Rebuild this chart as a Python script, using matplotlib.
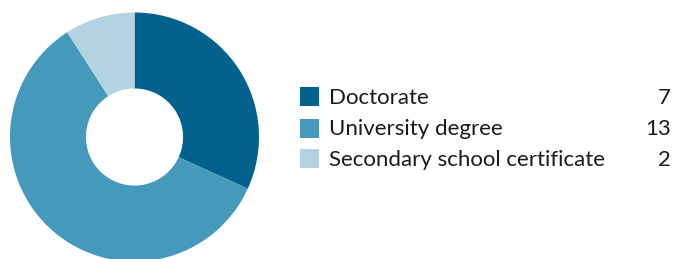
import matplotlib
matplotlib.use("Agg")
import matplotlib.pyplot as plt
from matplotlib.patches import Rectangle

categories = ["Doctorate", "University degree", "Secondary school certificate"]
values = [7, 13, 2]
colors = ["#02618d", "#4599ba", "#b3d3e0"]

W, H = 676, 259
fig = plt.figure(figsize=(W / 100, H / 100), dpi=100)

cx, cy, r = 134.5, 259 - 137, 124.5
ax = fig.add_axes([(cx - r) / W, (cy - r) / H, 2 * r / W, 2 * r / H])
ax.pie(values, colors=colors, startangle=90, counterclock=False, radius=1,
       wedgeprops=dict(width=0.61, linewidth=0))
ax.set_xlim(-1, 1)
ax.set_ylim(-1, 1)
ax.set_aspect("equal")
ax.axis("off")

sq_y = [96, 128, 158]    # square centers, px from top
txt_y = [97.5, 129, 159.5]  # text centers, px from top
for i, (cat, val, col) in enumerate(zip(categories, values, colors)):
    yc = H - sq_y[i]
    fig.patches.append(Rectangle((300 / W, (yc - 9.5) / H), 19 / W, 19 / H,
                                 transform=fig.transFigure, facecolor=col, edgecolor="none"))
    yt = (H - txt_y[i]) / H
    fig.text(329 / W, yt, cat, fontsize=16, family="Lato", va="center", ha="left", color="#1a1a1a")
    fig.text(671 / W, yt, str(val), fontsize=16, family="Lato", va="center", ha="right", color="#1a1a1a")

fig.savefig("out.png", dpi=100)
